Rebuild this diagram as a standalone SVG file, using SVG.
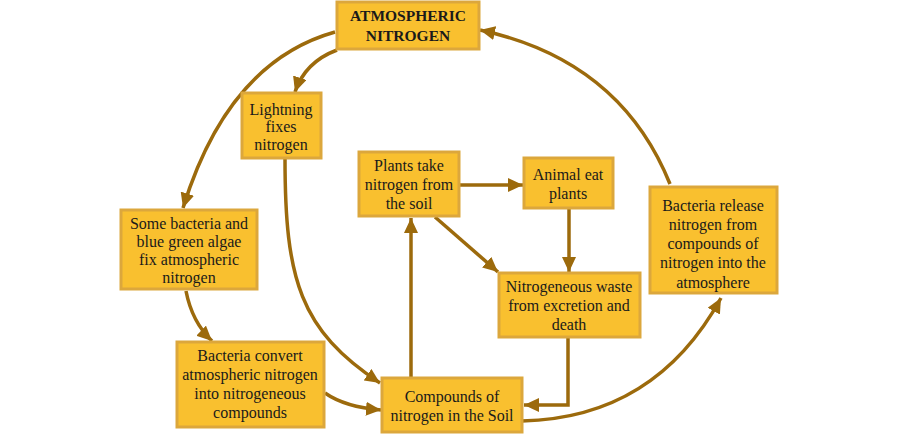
<svg xmlns="http://www.w3.org/2000/svg" width="900" height="440" viewBox="0 0 900 440">
<style>
.box{fill:#f9c02f;stroke:#dca73c;stroke-width:3}
text{font-family:'Liberation Serif','DejaVu Serif','Noto Serif',serif;font-size:16px;fill:#1a1a1a;text-anchor:middle}
.tb{font-weight:bold;font-size:15.5px}
.c{fill:none;stroke:#9c6a0c;stroke-width:3.5;marker-end:url(#ah)}
</style>
<defs>
<marker id="ah" markerUnits="userSpaceOnUse" markerWidth="16" markerHeight="14" refX="15" refY="7" orient="auto">
<path d="M0,0 L15,7 L0,14 z" fill="#9c6a0c"/>
</marker>
</defs>
<rect width="900" height="440" fill="#ffffff"/>
<g id="connectors">
<path class="c" d="M335,32 Q228,62 183,208"/>
<path class="c" d="M337,50 Q305,62 295,92"/>
<path class="c" d="M285,158 C285,280 300,330 380,383"/>
<path class="c" d="M186,291 Q192,322 212,341"/>
<path class="c" d="M325,393 Q345,407 381,410"/>
<path class="c" d="M411,377 L411,218"/>
<path class="c" d="M459,185 L523,185"/>
<path class="c" d="M435,217 L498,272"/>
<path class="c" d="M569,208 L569,272"/>
<path class="c" d="M568,338 L568,405 L524,405"/>
<path class="c" d="M522,421 Q655,418 721,298"/>
<path class="c" d="M670,184 Q620,60 480,30"/>
</g>
<g id="atmospheric-nitrogen">
<rect class="box" x="337" y="2" width="142" height="47"/>
<text class="tb" x="408" y="21">ATMOSPHERIC</text>
<text class="tb" x="408" y="41">NITROGEN</text>
</g>
<g id="lightning">
<rect class="box" x="242" y="93" width="79" height="65"/>
<text x="281" y="115">Lightning</text>
<text x="281" y="132">fixes</text>
<text x="281" y="150">nitrogen</text>
</g>
<g id="bacteria-algae">
<rect class="box" x="121" y="210" width="136" height="79"/>
<text x="189" y="229">Some bacteria and</text>
<text x="189" y="247">blue green algae</text>
<text x="189" y="265">fix atmospheric</text>
<text x="189" y="283">nitrogen</text>
</g>
<g id="bacteria-convert">
<rect class="box" x="177" y="342" width="147" height="85"/>
<text x="250" y="361">Bacteria convert</text>
<text x="250" y="380">atmospheric nitrogen</text>
<text x="250" y="399">into nitrogeneous</text>
<text x="250" y="418">compounds</text>
</g>
<g id="compounds-soil">
<rect class="box" x="382" y="378" width="140" height="54"/>
<text x="452" y="402">Compounds of</text>
<text x="452" y="421">nitrogen in the Soil</text>
</g>
<g id="plants">
<rect class="box" x="359" y="152" width="100" height="64"/>
<text x="409" y="171">Plants take</text>
<text x="409" y="190">nitrogen from</text>
<text x="409" y="209">the soil</text>
</g>
<g id="animal">
<rect class="box" x="524" y="158" width="89" height="50"/>
<text x="568" y="180">Animal eat</text>
<text x="568" y="199">plants</text>
</g>
<g id="waste">
<rect class="box" x="499" y="273" width="141" height="64"/>
<text x="569" y="292">Nitrogeneous waste</text>
<text x="569" y="311">from excretion and</text>
<text x="569" y="330">death</text>
</g>
<g id="bacteria-release">
<rect class="box" x="650" y="187" width="127" height="106"/>
<text x="713" y="211">Bacteria release</text>
<text x="713" y="230">nitrogen from</text>
<text x="713" y="249">compounds of</text>
<text x="713" y="268">nitrogen into the</text>
<text x="713" y="288">atmosphere</text>
</g>
</svg>
